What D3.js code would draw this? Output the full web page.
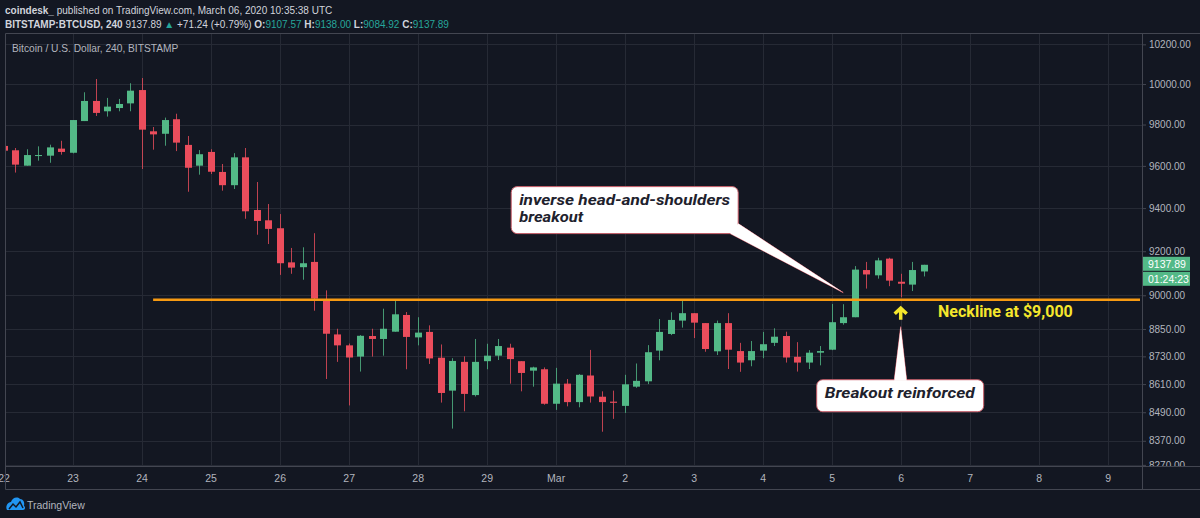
<!DOCTYPE html>
<html>
<head>
<meta charset="utf-8">
<script src="https://cdnjs.cloudflare.com/ajax/libs/d3/7.8.5/d3.min.js"></script>
<style>
  body { margin: 0; background: #131722; }
  svg { display: block; }
  text { font-family: "Liberation Sans", Arial, sans-serif; }
</style>
</head>
<body>
<div id="chart-area"></div>
<script>
// BITSTAMP:BTCUSD, 240 (4h bars) starting Feb 22 2020 00:00 UTC

var startTime = Date.UTC(2020, 1, 22, 0);

var opens = [9696, 9675, 9601, 9650, 9649, 9683, 9663, 9817, 9916, 9865,
  9881, 9904, 9970, 9767, 9755, 9826, 9701, 9601, 9667, 9571,
  9508, 9641, 9391, 9343, 9306, 9149, 9127, 9151, 8979, 8826,
  8778, 8729, 8819, 8806, 8838, 8912, 8813, 8837, 8724, 8582,
  8706, 8563, 8709, 8733, 8768, 8709, 8668, 8674, 8526, 8612,
  8533, 8647, 8556, 8535, 8517, 8599, 8622, 8755, 8828, 8887,
  8920, 8876, 8752, 8876, 8753, 8713, 8755, 8789, 8819, 8728,
  8703, 8746, 8759, 8876, 8902, 9114, 9090, 9166, 9061, 9048,
  9107.57];

var highs = [9700, 9686, 9680, 9694, 9702, 9721, 9822, 9959, 10025, 9931,
  9926, 10004, 10030, 9788, 9834, 9853, 9744, 9676, 9680, 9609,
  9661, 9686, 9523, 9419, 9372, 9215, 9218, 9283, 9022, 8851,
  8786, 8823, 8851, 8940, 8976, 8925, 8902, 8866, 8782, 8722,
  8730, 8806, 8785, 8806, 8785, 8709, 8685, 8682, 8680, 8632,
  8653, 8758, 8579, 8582, 8650, 8699, 8779, 8894, 8924, 8976,
  8920, 8876, 8887, 8920, 8789, 8797, 8837, 8853, 8838, 8792,
  8757, 8775, 8961, 8960, 9132, 9151, 9170, 9170, 9097, 9151,
  9138.00];

var lows = [9670, 9568, 9601, 9625, 9615, 9654, 9660, 9817, 9842, 9839,
  9865, 9865, 9585, 9678, 9697, 9671, 9477, 9558, 9561, 9482,
  9490, 9350, 9276, 9233, 9092, 9097, 9070, 8931, 8632, 8706,
  8519, 8664, 8729, 8733, 8838, 8674, 8778, 8697, 8531, 8421,
  8494, 8557, 8674, 8714, 8612, 8579, 8599, 8522, 8500, 8515,
  8511, 8531, 8408, 8462, 8487, 8594, 8610, 8713, 8823, 8856,
  8810, 8750, 8736, 8675, 8663, 8687, 8722, 8775, 8703, 8664,
  8675, 8691, 8757, 8869, 8902, 9030, 9075, 9041, 8991, 9019,
  9084.92];

var closes = [9673, 9606, 9652, 9652, 9689, 9667, 9822, 9916, 9857, 9888,
  9901, 9967, 9775, 9752, 9822, 9712, 9591, 9656, 9572, 9508,
  9641, 9385, 9340, 9303, 9145, 9125, 9145, 8985, 8829, 8778,
  8725, 8820, 8806, 8851, 8915, 8815, 8834, 8721, 8572, 8710,
  8568, 8706, 8733, 8775, 8718, 8658, 8682, 8526, 8612, 8533,
  8650, 8557, 8533, 8530, 8609, 8624, 8748, 8837, 8890, 8920,
  8878, 8762, 8876, 8759, 8703, 8753, 8783, 8816, 8725, 8703,
  8746, 8753, 8880, 8902, 9116, 9094, 9158, 9066, 9052, 9114,
  9137.89];

var priceTicks = [8270, 8370, 8490, 8610, 8730, 8850, 9000, 9200, 9400, 9600, 9800, 10000, 10200];
var dayTicks = d3.utcDay.range(Date.UTC(2020, 1, 22), Date.UTC(2020, 2, 10));

var necklinePrice = 8980;
var necklineStart = Date.UTC(2020, 1, 24, 4);
var lastPrice = 9137.89;
var countdown = "01:24:23";

var candles = closes.map(function(c, i) {
  return {t: new Date(startTime + i * 4 * 3600 * 1000), o: opens[i], h: highs[i], l: lows[i], c: c};
});

// layout
var W = 1200, H = 518;
var plot = {left: 5, top: 33, right: 1142, bottom: 466};
var axisBottom = 489;

var upColor = "#53b987", downColor = "#eb4d5c";
var gridColor = "#262a35", borderColor = "#434651", textColor = "#b2b5be";

var svg = d3.select("#chart-area").append("svg")
    .attr("width", W)
    .attr("height", H);

svg.append("rect").attr("width", W).attr("height", H).attr("fill", "#131722");

var defs = svg.append("defs");
defs.append("clipPath").attr("id", "plot-clip")
  .append("rect")
    .attr("x", plot.left).attr("y", plot.top)
    .attr("width", plot.right - plot.left).attr("height", plot.bottom - plot.top);
defs.append("clipPath").attr("id", "yaxis-clip")
  .append("rect")
    .attr("x", plot.right).attr("y", plot.top)
    .attr("width", W - plot.right).attr("height", plot.bottom - plot.top);

// Scales
var x = d3.scaleUtc()
    .domain([Date.UTC(2020, 1, 22), Date.UTC(2020, 2, 6)])
    .range([3.6, 900.7]);

var y = d3.scaleLog()
    .domain([8265.4, 10257.8])
    .range([plot.bottom, plot.top]);

var plotGroup = svg.append("g").attr("clip-path", "url(#plot-clip)");

// grid
plotGroup.selectAll(".hgrid")
  .data(priceTicks)
  .enter().append("line")
    .attr("x1", plot.left).attr("x2", plot.right)
    .attr("y1", d => Math.round(y(d)) + 0.5).attr("y2", d => Math.round(y(d)) + 0.5)
    .attr("stroke", gridColor);

plotGroup.selectAll(".vgrid")
  .data(dayTicks)
  .enter().append("line")
    .attr("x1", d => Math.round(x(d)) + 0.5).attr("x2", d => Math.round(x(d)) + 0.5)
    .attr("y1", plot.top).attr("y2", plot.bottom)
    .attr("stroke", gridColor);

// candles
var bodyW = 7;
var candle = plotGroup.selectAll(".candle")
  .data(candles)
  .enter().append("g");

candle.append("line")
    .attr("x1", d => Math.round(x(d.t)) + 0.5)
    .attr("x2", d => Math.round(x(d.t)) + 0.5)
    .attr("y1", d => y(d.h))
    .attr("y2", d => y(d.l))
    .attr("stroke", d => d.c >= d.o ? upColor : downColor)
    .attr("stroke-opacity", 0.8);

candle.append("rect")
    .attr("x", d => Math.round(x(d.t)) + 1 - bodyW / 2 - 0.5)
    .attr("y", d => y(Math.max(d.o, d.c)))
    .attr("width", bodyW)
    .attr("height", d => Math.max(1, y(Math.min(d.o, d.c)) - y(Math.max(d.o, d.c))))
    .attr("fill", d => d.c >= d.o ? upColor : downColor);

// neckline
plotGroup.append("line")
    .attr("x1", x(necklineStart)).attr("x2", plot.right - 2)
    .attr("y1", y(necklinePrice)).attr("y2", y(necklinePrice))
    .attr("stroke", "#f79a12")
    .attr("stroke-width", 2.5);

// Axes
var yAxis = d3.axisRight(y)
    .tickValues(priceTicks)
    .tickFormat(d3.format(".2f"))
    .tickSize(4)
    .tickPadding(3);

var yAxisGroup = svg.append("g")
    .attr("clip-path", "url(#yaxis-clip)")
  .append("g")
    .attr("transform", "translate(" + plot.right + ",0)")
    .call(yAxis);
yAxisGroup.select(".domain").remove();
yAxisGroup.selectAll("line").attr("stroke", borderColor);
yAxisGroup.selectAll("text")
    .attr("fill", textColor)
    .style("font-size", "10px")
    .style("font-family", "'Liberation Sans', Arial, sans-serif");

var xAxis = d3.axisBottom(x)
    .tickValues(dayTicks)
    .tickFormat(d => d.getUTCDate() === 1 ? "Mar" : d.getUTCDate())
    .tickSize(0)
    .tickPadding(9);

var xAxisGroup = svg.append("g")
    .attr("transform", "translate(0," + plot.bottom + ")")
    .call(xAxis);
xAxisGroup.select(".domain").remove();
xAxisGroup.selectAll("text")
    .attr("fill", textColor)
    .style("font-size", "10.5px")
    .style("font-family", "'Liberation Sans', Arial, sans-serif");

// borders
var borders = [
  [plot.left, plot.top, W, plot.top],
  [plot.left, plot.bottom, W, plot.bottom],
  [plot.left, axisBottom, W, axisBottom],
  [plot.left, plot.top, plot.left, axisBottom],
  [plot.right, plot.top, plot.right, axisBottom]
];
svg.selectAll(".border")
  .data(borders)
  .enter().append("line")
    .attr("x1", d => d[0] + 0.5).attr("y1", d => d[1] + 0.5)
    .attr("x2", d => d[2] + 0.5).attr("y2", d => d[3] + 0.5)
    .attr("stroke", borderColor);

// last price label
var lp = y(lastPrice);
svg.append("rect")
    .attr("x", plot.right + 1).attr("y", lp - 8)
    .attr("width", 47).attr("height", 14)
    .attr("fill", upColor);
svg.append("rect")
    .attr("x", plot.right + 1).attr("y", lp + 7)
    .attr("width", 47).attr("height", 14)
    .attr("fill", upColor);
svg.append("text")
    .attr("x", plot.right + 6).attr("y", lp + 3)
    .attr("fill", "#fff").style("font-size", "10.5px")
    .text(lastPrice.toFixed(2));
svg.append("text")
    .attr("x", plot.right + 6).attr("y", lp + 18)
    .attr("fill", "#fff").style("font-size", "10.5px")
    .text(countdown);

// header
var head = svg.append("g").style("font-size", "10px");
var l1 = head.append("text").attr("x", 5).attr("y", 14).attr("fill", "#d1d4dc");
l1.append("tspan").attr("font-weight", "bold").text("coindesk_");
l1.append("tspan").text(" published on TradingView.com, March 06, 2020 10:35:38 UTC");

var teal = "#26a69a";
var l2 = head.append("text").attr("x", 5).attr("y", 28).attr("fill", "#d1d4dc");
l2.append("tspan").attr("font-weight", "bold").text("BITSTAMP:BTCUSD, 240");
l2.append("tspan").text(" 9137.89 ");
l2.append("tspan").attr("fill", teal).text("▲");
l2.append("tspan").text(" +71.24 (+0.79%) ");
[["O:", "9107.57"], ["H:", "9138.00"], ["L:", "9084.92"], ["C:", "9137.89"]].forEach(function(p, i) {
  l2.append("tspan").attr("font-weight", "bold").text((i ? " " : "") + p[0]);
  l2.append("tspan").attr("fill", teal).text(p[1]);
});

svg.append("text")
    .attr("x", 12).attr("y", 52)
    .attr("fill", textColor)
    .style("font-size", "10.2px")
    .text("Bitcoin / U.S. Dollar, 240, BITSTAMP");

// annotations
var calloutStroke = "#c75b66";

function callout(bx, by, bw, bh, wedge, lines, lengths) {
  var g = svg.append("g");
  g.append("polygon")
      .attr("points", wedge.map(p => p.join(",")).join(" "))
      .attr("fill", "#fff").attr("stroke", calloutStroke);
  g.append("rect")
      .attr("x", bx).attr("y", by).attr("width", bw).attr("height", bh)
      .attr("rx", 6)
      .attr("fill", "#fff").attr("stroke", calloutStroke);
  g.append("polygon")
      .attr("points", wedge.map(p => p.join(",")).join(" "))
      .attr("fill", "#fff");
  var t = g.append("text")
      .attr("fill", "#1e222d")
      .style("font-family", "Roboto, 'Liberation Sans', sans-serif")
      .style("font-size", "14.5px")
      .style("font-weight", "bold")
      .style("font-style", "italic");
  lines.forEach(function(s, i) {
    t.append("tspan")
        .attr("x", bx + 8).attr("y", by + 18.5 + i * 17)
        .attr("textLength", lengths[i]).attr("lengthAdjust", "spacingAndGlyphs")
        .text(s);
  });
}

// "inverse head-and-shoulders breakout"
var a1x = x(Date.UTC(2020, 2, 5, 4)), a1y = y(9012);
callout(a1x - 332, a1y - 106, 227, 47,
  [[a1x - 113, a1y - 59], [a1x - 105, a1y - 69], [a1x, a1y]],
  ["inverse head-and-shoulders", "breakout"], [211, 64]);

// "Breakout reinforced"
var a2x = x(Date.UTC(2020, 2, 6, 0)), a2y = y(8860);
callout(a2x - 84, a2y + 53, 167, 32,
  [[a2x - 6.5, a2y + 54], [a2x + 6, a2y + 54], [a2x, a2y]],
  ["Breakout reinforced"], [150]);

// yellow arrow + neckline label
var yellow = "#f5e62c";
var ny = y(necklinePrice);
svg.append("path")
    .attr("transform", "translate(" + a2x + "," + (ny + 8) + ")")
    .attr("d", "M-6,6 L0,0.5 L6,6 M0,2 V12")
    .attr("fill", "none")
    .attr("stroke", yellow)
    .attr("stroke-width", 3.5);

svg.append("text")
    .attr("x", x(Date.UTC(2020, 2, 6, 13)))
    .attr("y", ny + 17)
    .attr("fill", yellow)
    .style("font-family", "Roboto, 'Liberation Sans', sans-serif")
    .style("font-size", "16px")
    .style("font-weight", "bold")
    .text("Neckline at $9,000");

// TradingView logo
var logo = svg.append("g").attr("transform", "translate(6,496)");
logo.append("path")
    .attr("d", "M1,14 C-1,10 2,6 5,6 C6,2 11,0 14,3 C17,3 19,6 18,10 C20,11 19,14 17,14 Z")
    .attr("fill", "#2196f3");
logo.append("path")
    .attr("d", "M3,13 L7,8 L10,11 L14,6 L17,12")
    .attr("fill", "none").attr("stroke", "#131722").attr("stroke-width", 1.5);
svg.append("text")
    .attr("x", 27).attr("y", 509)
    .attr("fill", textColor)
    .style("font-size", "10.5px")
    .text("TradingView");
</script>
</body>
</html>
